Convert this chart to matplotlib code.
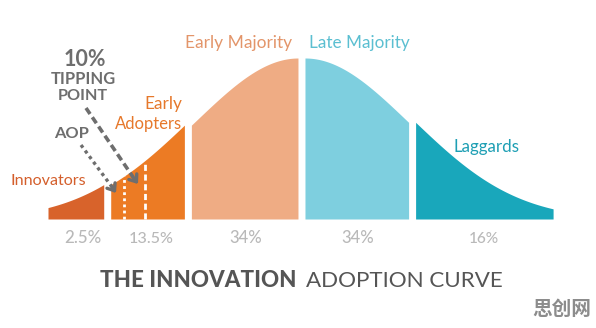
import numpy as np
import matplotlib
matplotlib.use("Agg")
import matplotlib.pyplot as plt

# ---------------- data ----------------
categories = ["Innovators", "Early Adopters", "Early Majority", "Late Majority", "Laggards"]
shares = ["2.5%", "13.5%", "34%", "34%", "16%"]
# segment boundaries on the adoption curve, in standard deviations from the mean
bounds = [-2.3, -1.757, -1.039, 0.0, 1.01, 2.35]
aop_z = -1.627        # AOP marker (inside Early Adopters)
tipping_z = -1.423    # 10% tipping point marker (inside Early Adopters)

seg_colors = ["#D8632B", "#EC7B24", "#EFAC84", "#7ECFDF", "#19A7BB"]
label_colors = ["#D45F2C", "#E6782B", "#E3956A", "#5BBFD1", "#1E9FB4"]

W, H = 596, 328
FONT = ["Lato", "DejaVu Sans"]
CAP = 0.7165  # Lato cap-height / em

fig = plt.figure(figsize=(W / 100, H / 100), dpi=100)
ax = fig.add_axes([0, 0, 1, 1])
ax.axis("off")

# layout scale: px per std-dev unit, gap between segments
s_px = 102.6
gap = 7 / s_px
x_left = bounds[0] - 48 / s_px
ax.set_xlim(x_left, x_left + W / s_px)
y_px = 161.0
ax.set_ylim(-(H - 219) / y_px, 219 / y_px)


def curve(z):
    return np.exp(-0.5 * np.asarray(z) ** 2)


for i in range(len(categories)):
    z = np.linspace(bounds[i], bounds[i + 1], 200)
    ax.fill_between(z + i * gap, 0, curve(z), color=seg_colors[i], lw=0)

# white marker lines inside early adopters
ax.plot([aop_z + gap, aop_z + gap], [0, curve(aop_z)], color="white", lw=2.0,
        linestyle=(0, (1, 1.2)), solid_capstyle="butt", dash_capstyle="butt")
ax.plot([tipping_z + gap, tipping_z + gap], [0, curve(tipping_z)], color="white", lw=2.0,
        linestyle=(0, (2.2, 1.3)), dash_capstyle="butt")

renderer = fig.canvas.get_renderer()


def put(text, x0, x1, base, color, cap, weight="normal", family=FONT, mode="mix"):
    """Place text between x0..x1 (px) on baseline `base` with cap height `cap` px."""
    fs_h = cap / CAP * 0.72
    t = fig.text(0, 1 - base / H, text, ha="left", va="baseline", fontsize=10,
                 color=color, fontweight=weight, family=family)
    w = t.get_window_extent(renderer).width
    fs_w = 10 * (x1 - x0) / w
    if mode == "w":
        fs = fs_w
    elif mode == "h":
        fs = fs_h
    else:
        fs = np.sqrt(fs_w * fs_h)
    t.set_fontsize(fs)
    w = t.get_window_extent(renderer).width
    if mode == "h":
        t.set_x(x0 / W)
    else:
        t.set_x(((x0 + x1) / 2 - w / 2) / W)
    return t


GRAY = "#6E6E6E"
put("10%", 63, 107, 66.5, GRAY, 15, "bold")
put("TIPPING", 51, 115, 84, GRAY, 12, "bold")
put("POINT", 58, 107, 100, GRAY, 12, "bold")
put("AOP", 53, 90, 138, GRAY, 11, "bold")

put("Innovators", 12, 85, 185, label_colors[0], 12)
put("Early", 145, 182, 109, label_colors[1], 12.5)
put("Adopters", 115, 182, 128.5, label_colors[1], 12)
put("Early Majority", 187, 290, 48, label_colors[2], 13)
put("Late Majority", 312, 407, 48, label_colors[3], 13)
put("Laggards", 453, 520, 152, label_colors[4], 12)

pct_pos = [(63, 102), (129, 174), (229, 263), (341, 375), (469, 498)]
for lab, (a, b) in zip(shares, pct_pos):
    put(lab, a, b, 243, "#B9B9B9", 11.5, "medium")

# title: bold part + regular part, centred as a whole
t1 = put("THE INNOVATION", 0, 1, 287, "#555555", 16, "black", mode="h")
t2 = put("ADOPTION CURVE", 0, 1, 287, "#555555", 16, "normal", mode="h")
w1 = t1.get_window_extent(renderer).width
w2 = t2.get_window_extent(renderer).width
space = 9
start = (97 + 506) / 2 - (w1 + space + w2) / 2
t1.set_x(start / W)
t2.set_x((start + w1 + space) / W)

put("思创网", 532, 591, 315, "#8C8C8C", 15, "bold",
    family=["Noto Sans CJK SC", "DejaVu Sans"], mode="w")


# gray annotation arrows (figure pixel coordinates)
def P(px, py):
    return (px, H - py)


ARR = "#6E6E6E"
# tipping point dashed arrow
fig.lines.append(plt.Line2D([86 / W, 133 / W], [1 - 108 / H, 1 - 177 / H],
                            transform=fig.transFigure, color=ARR, lw=2.6,
                            linestyle=(0, (2, 1.1)), dash_capstyle="butt"))
# AOP dotted arrow
fig.lines.append(plt.Line2D([81 / W, 112 / W], [1 - 145 / H, 1 - 187 / H],
                            transform=fig.transFigure, color=ARR, lw=2.4,
                            linestyle=(0, (1, 1.1)), dash_capstyle="butt"))


def head(x0, y0, x1, y1):
    ax.annotate("", xy=P(x1, y1), xycoords="figure pixels",
                xytext=P(x0, y0), textcoords="figure pixels",
                arrowprops=dict(arrowstyle="->,head_length=0.45,head_width=0.35",
                                color=ARR, lw=2.4, shrinkA=0, shrinkB=0))


head(133, 177, 138, 184)
head(112, 187, 116, 193)

fig.savefig("out.png", dpi=100)
